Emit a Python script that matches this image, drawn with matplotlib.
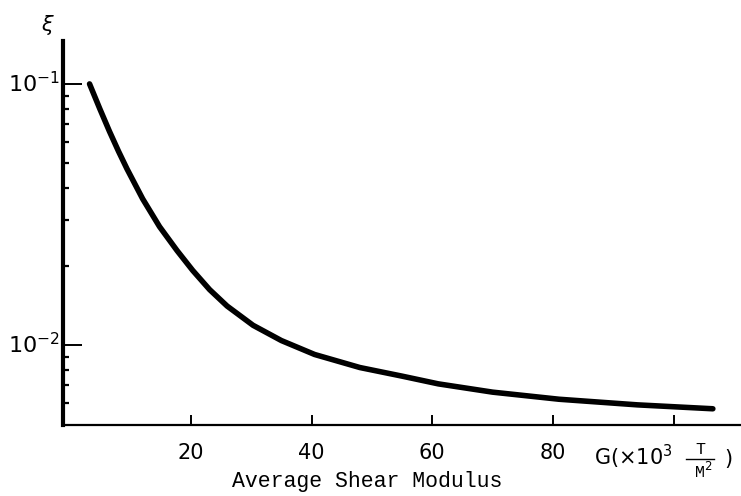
import matplotlib
matplotlib.use("Agg")
import matplotlib.pyplot as plt
from matplotlib.ticker import FixedLocator, NullFormatter

# average shear modulus G (x10^3 T/M^2) and damping ratio xi
G = [3.2, 4.9, 6.5, 8.0, 9.4, 12.0, 14.8, 17.7, 20.3, 23.1, 26.0, 30.3,
     35.0, 40.5, 48.0, 55.0, 61.0, 70.0, 81.0, 94.0, 106.5]
xi = [0.100, 0.0803, 0.0658, 0.0552, 0.0473, 0.0363, 0.0284, 0.0230, 0.0193,
      0.0163, 0.0141, 0.0119, 0.0104, 0.0092, 0.0082, 0.0076, 0.0071, 0.0066,
      0.0062, 0.0059, 0.0057]

x_ticks = [20, 40, 60, 80, 100]
x_labels = ["20", "40", "60", "80", ""]
y_major = [0.1, 0.01]
y_labels = [r"$10^{-1}$", r"$10^{-2}$"]
y_minor = [0.006, 0.007, 0.008, 0.009,
           0.02, 0.03, 0.04, 0.05, 0.06, 0.07, 0.08, 0.09]

W, H = 741, 496
fig = plt.figure(figsize=(W / 100, H / 100), dpi=100)
ax = fig.add_axes([63 / W, 1 - 425 / H, (740 - 63) / W, (425 - 41) / H])

ax.plot(G, xi, color="black", lw=4, solid_capstyle="round", solid_joinstyle="round")

ax.set_yscale("log")
ax.set_xlim(-1.2, 111)
ax.set_ylim(0.00494, 0.146)

ax.spines["top"].set_visible(False)
ax.spines["right"].set_visible(False)
ax.spines["left"].set_linewidth(3)
ax.spines["bottom"].set_linewidth(1.6)

ax.set_xticks(x_ticks)
ax.set_xticklabels(x_labels)
ax.yaxis.set_major_locator(FixedLocator(y_major))
ax.yaxis.set_minor_locator(FixedLocator(y_minor))
ax.yaxis.set_minor_formatter(NullFormatter())
ax.set_yticklabels([])

ax.tick_params(axis="x", direction="in", length=7, width=1.4, pad=13, labelsize=15)
ax.tick_params(axis="y", which="major", direction="in", length=14, width=1.4)
ax.tick_params(axis="y", which="minor", direction="in", length=4, width=1.6)
ax.tick_params(axis="x", which="minor", length=0)

# y tick labels placed by hand so that the "10" sits on the tick
for val, lab in zip(y_major, y_labels):
    ax.annotate(lab, xy=(0, val), xycoords=("axes fraction", "data"),
                xytext=(-3, -8), textcoords="offset pixels",
                ha="right", va="baseline", fontsize=16)

mono = "Liberation Mono"
fig.text(367 / W, 1 - 481 / H, "Average Shear Modulus", family=mono,
         fontsize=15.5, ha="center", va="center")
fig.text(48 / W, 1 - 25 / H, r"$\xi$", fontsize=15, ha="center", va="center")
fig.text(594 / W, 1 - 457 / H, r"G($\times$10$^3$", fontsize=15,
         ha="left", va="center")
fig.text(700 / W, 1 - 449 / H, "T", family=mono, fontsize=12,
         ha="center", va="center")
fig.add_artist(plt.Line2D([686 / W, 714 / W], [1 - 459 / H, 1 - 459 / H],
                          color="black", lw=1))
fig.text(703 / W, 1 - 471 / H, r"M$^2$", family=mono, fontsize=12,
         ha="center", va="center")
fig.text(728 / W, 1 - 459 / H, ")", fontsize=15, ha="center", va="center")

fig.savefig("out.png", dpi=100)
